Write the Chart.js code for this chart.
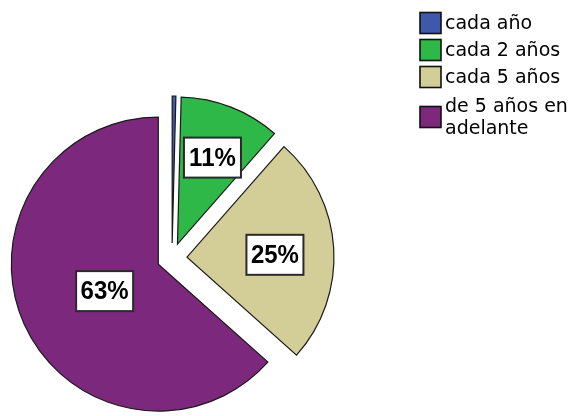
<!DOCTYPE html>
<html>
<head>
<meta charset="utf-8">
<script src="https://cdn.jsdelivr.net/npm/chart.js@4.4.1/dist/chart.umd.min.js"></script>
<style>
  html, body { margin: 0; padding: 0; background: #ffffff; }
  #wrap { width: 574px; height: 416px; position: relative; }
</style>
</head>
<body>
<div id="wrap"><canvas id="chart" width="574" height="416"></canvas></div>
<script>
// Frecuencia con la que se realiza la revisión (porcentaje de encuestados)
const categories = ['cada año', 'cada 2 años', 'cada 5 años', 'de 5 años en adelante'];
const legendLines = [['cada año'], ['cada 2 años'], ['cada 5 años'], ['de 5 años en', 'adelante']];
const percentages = [0.4, 11, 25, 63];
const sliceColors = ['#3e58ac', '#2eb848', '#d3ce97', '#7c287d'];

// distance (px) each slice is pulled out from the centre
const EXPLODE = 15;

// Draw every arc shifted outwards along its own bisector
const explodePlugin = {
  id: 'explode',
  beforeDatasetDraw(chart, args) {
    const ctx = chart.ctx;
    args.meta.data.forEach(arc => {
      const mid = (arc.startAngle + arc.endAngle) / 2;
      ctx.save();
      ctx.translate(Math.cos(mid) * EXPLODE, Math.sin(mid) * EXPLODE);
      arc.draw(ctx);
      ctx.restore();
    });
    return false;
  }
};

// Percentage boxes placed near the centroid of each exploded slice
const valueLabelPlugin = {
  id: 'valueLabels',
  afterDatasetsDraw(chart) {
    const ctx = chart.ctx;
    const meta = chart.getDatasetMeta(0);
    meta.data.forEach((arc, i) => {
      const v = percentages[i];
      if (v < 5) return;
      const text = Math.round(v) + '%';
      const a = arc.endAngle - arc.startAngle;
      const mid = (arc.startAngle + arc.endAngle) / 2;
      const centroid = 4 * arc.outerRadius * Math.sin(a / 2) / (3 * a);
      const d = EXPLODE + Math.max(centroid, 0.4 * arc.outerRadius);
      const cx = arc.x + Math.cos(mid) * d;
      const cy = arc.y + Math.sin(mid) * d + 3;
      const w = 57, h = 40;
      ctx.save();
      ctx.fillStyle = '#ffffff';
      ctx.fillRect(cx - w / 2, cy - h / 2, w, h);
      ctx.strokeStyle = '#2a2a2a';
      ctx.lineWidth = 2;
      ctx.strokeRect(cx - w / 2, cy - h / 2, w, h);
      ctx.fillStyle = '#000000';
      ctx.font = 'bold 24px "Liberation Sans", Arial, sans-serif';
      ctx.textAlign = 'center';
      ctx.textBaseline = 'middle';
      ctx.translate(cx, cy + 1);
      ctx.scale(1, 1.08);
      ctx.fillText(text, 0, 0);
      ctx.restore();
    });
  }
};

// Legend on the right, with wrapped text for the long category
const sideLegendPlugin = {
  id: 'sideLegend',
  afterDraw(chart) {
    const ctx = chart.ctx;
    const boxX = 420, box = 21, textX = 445, lineH = 22;
    const rows = [23, 50, 77, 117];
    ctx.save();
    ctx.font = '19px "DejaVu Sans", sans-serif';
    ctx.textBaseline = 'middle';
    ctx.textAlign = 'left';
    legendLines.forEach((lines, i) => {
      const yc = rows[i];
      ctx.fillStyle = sliceColors[i];
      ctx.fillRect(boxX, yc - box / 2, box, box);
      ctx.strokeStyle = '#111111';
      ctx.lineWidth = 1.6;
      ctx.strokeRect(boxX, yc - box / 2, box, box);
      ctx.fillStyle = '#000000';
      const top = yc - (lines.length - 1) * lineH / 2;
      lines.forEach((ln, k) => ctx.fillText(ln, textX, top + k * lineH + 1));
    });
    ctx.restore();
  }
};

new Chart(document.getElementById('chart'), {
  type: 'pie',
  data: {
    labels: categories,
    datasets: [{
      data: percentages,
      backgroundColor: sliceColors,
      borderColor: '#1a1a1a',
      borderWidth: 1.2,
      borderJoinStyle: 'miter'
    }]
  },
  options: {
    responsive: false,
    animation: false,
    devicePixelRatio: 1,
    radius: 147,
    layout: { padding: { left: 0, right: 230, top: 111, bottom: 11 } },
    plugins: {
      legend: { display: false },
      tooltip: { enabled: false }
    }
  },
  plugins: [explodePlugin, valueLabelPlugin, sideLegendPlugin]
});
</script>
</body>
</html>
